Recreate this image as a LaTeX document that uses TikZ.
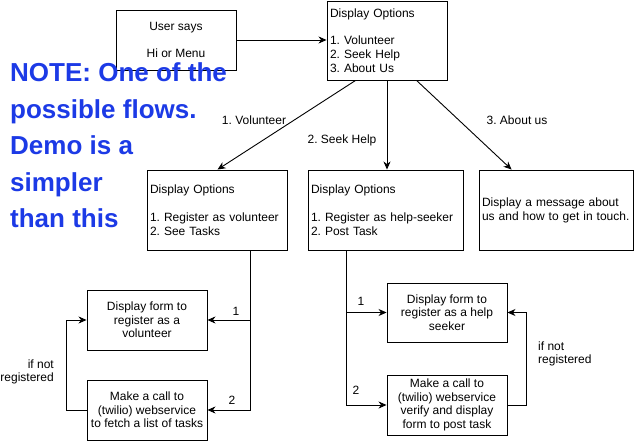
\documentclass[tikz,border=0pt]{standalone}
\usepackage{fontspec}
\setmainfont{Liberation Sans}
\usetikzlibrary{arrows.meta,calc}
\definecolor{noteblue}{RGB}{28,58,230}
\begin{document}
\frenchspacing
\begin{tikzpicture}[x=1pt,y=-1pt,
  box/.style={draw, line width=0.9pt, inner sep=3pt, font=\fontsize{12}{14}\selectfont\frenchspacing},
  lbox/.style={box, align=left},
  cbox/.style={box, align=center, font=\fontsize{12}{13.5}\selectfont\frenchspacing},
  arr/.style={-{Stealth[length=8pt,width=7pt,inset=2.5pt]}, line width=0.9pt},
  lbl/.style={font=\fontsize{12}{13}\selectfont\frenchspacing, inner sep=0pt}]
\useasboundingbox[fill=white] (0,0) rectangle (634,441);
% top row
\node[cbox, minimum width=120pt, minimum height=60pt] (us) at (176,40) {User says\\[13.5pt]Hi or Menu};
\node[lbox, minimum width=120pt, minimum height=79pt, text width=114pt] (do) at (387,40.5)
  {Display Options\\[13pt]1. Volunteer\\2. Seek Help\\3. About Us};
% middle row
\node[lbox, minimum width=140pt, minimum height=80pt, text width=134pt] (lm) at (217,210)
  {Display Options\\[14pt]1. Register as volunteer\\2. See Tasks};
\node[lbox, minimum width=155pt, minimum height=80pt, text width=149pt] (hm) at (385.5,210)
  {Display Options\\[14pt]1. Register as help-seeker\\2. Post Task};
\node[lbox, minimum width=154pt, minimum height=80pt, text width=148pt] (rb) at (556,210)
  {Display a message about\\us and how to get in touch.};
% bottom left
\node[cbox, minimum width=120pt, minimum height=60pt] (vf) at (147,320) {Display form to\\register as a\\volunteer};
\node[cbox, minimum width=120pt, minimum height=60pt] (vc) at (147,410) {Make a call to\\(twilio) webservice\\to fetch a list of tasks};
% bottom right
\node[cbox, minimum width=120pt, minimum height=59pt] (hf) at (447,312.5) {Display form to\\register as a help\\seeker};
\node[cbox, minimum width=120pt, minimum height=60pt] (hc) at (447,405) {Make a call to\\(twilio) webservice\\verify and display\\form to post task};
% connectors top
\draw[arr] (us.east) -- (do.west |- us.east);
\draw[arr] ($(do.south west)+(29,0)$) -- ($(lm.north west)+(71,0)$);
\draw[arr] (do.south) -- (do.south |- hm.north);
\draw[arr] ($(do.south west)+(90,0)$) -- ($(rb.north west)+(33,0)$);
\node[lbl] (l1) at (254,120) {1. Volunteer};
\node[lbl] (l2) at (342,140) {2. Seek Help};
\node[lbl] (l3) at (517,120) {3. About us};
% bottom left connectors
\coordinate (j1) at ($(lm.south west)+(104,0)$);
\draw[arr] (j1) |- (vf.east);
\draw[arr] (j1) |- (vc.east);
\node[lbl] (n1) at (236,311) {1};
\node[lbl] (n2) at (232,400) {2};
\draw[arr] (vc.west) -- ++(-20,0) |- (vf.west);
\node[lbl, anchor=east, align=right] (nr1) at (54,371.5) {if not\\registered};
% bottom right connectors
\coordinate (j2) at ($(hm.south west)+(39,0)$);
\draw[arr] (j2) |- (hf.west);
\draw[arr] (j2) |- (hc.west);
\node[lbl] (m1) at (361,301) {1};
\node[lbl] (m2) at (356,390) {2};
\draw[arr] (hc.east) -- ++(19,0) |- (hf.east);
\node[lbl, anchor=west, align=left] (nr2) at (538,354) {if not\\registered};
% note
\node[anchor=base west, align=left, inner sep=0pt, text=noteblue,
  font=\fontsize{26}{36.5}\selectfont\bfseries] (note) at (10,227.5)
  {NOTE: One of the\\possible flows.\\Demo is a\\simpler\\than this};
\end{tikzpicture}
\end{document}
